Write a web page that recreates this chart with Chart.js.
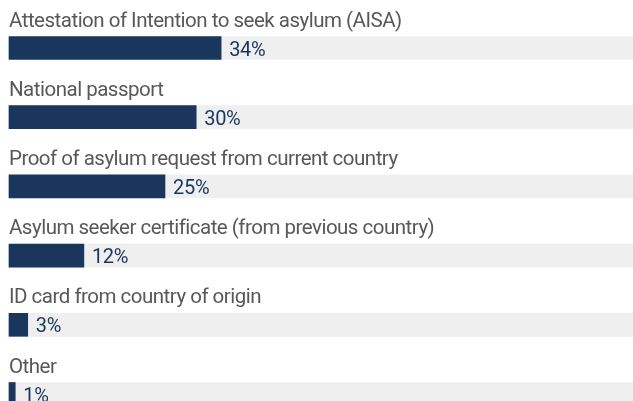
<!DOCTYPE html>
<html>
<head>
<meta charset="utf-8">
<script src="https://cdn.jsdelivr.net/npm/chart.js@4"></script>
<style>
  html, body { margin: 0; padding: 0; background: #fff; overflow: hidden; }
  #wrap { width: 633px; height: 401px; position: relative; }
</style>
</head>
<body>
<div id="wrap"><canvas id="docChart"></canvas></div>
<script>
const categories = [
    "Attestation of Intention to seek asylum (AISA)",
    "National passport",
    "Proof of asylum request from current country",
    "Asylum seeker certificate (from previous country)",
    "ID card from country of origin",
    "Other"
];
const shares = [34, 30, 25, 12, 3, 1];
const track = categories.map(() => 100);

const NAVY = "#1b365d";
const FONT = "Roboto, 'Liberation Sans', sans-serif";

// labels above the bars and the percentage after each bar
const barText = {
    id: "barText",
    afterDatasetsDraw(chart) {
        const ctx = chart.ctx;
        const meta = chart.getDatasetMeta(1);
        ctx.save();
        ctx.textAlign = "left";
        ctx.textBaseline = "alphabetic";
        meta.data.forEach((bar, i) => {
            const top = bar.y - bar.height / 2;
            ctx.font = "20.5px " + FONT;
            ctx.letterSpacing = "-0.5px";
            ctx.fillStyle = "#585858";
            ctx.fillText(categories[i], chart.chartArea.left, top - 10);
            ctx.font = "20px " + FONT;
            ctx.letterSpacing = "-0.3px";
            ctx.fillStyle = NAVY;
            ctx.fillText(shares[i] + "%", bar.x + 8, top + 19);
        });
        ctx.restore();
    }
};

new Chart(document.getElementById("docChart"), {
    type: "bar",
    data: {
        labels: categories,
        datasets: [
            { data: track, backgroundColor: "#efefef", barThickness: 23, clip: false, order: 2 },
            { data: shares, backgroundColor: NAVY, barThickness: 23, clip: false, order: 1 }
        ]
    },
    options: {
        indexAxis: "y",
        responsive: true,
        maintainAspectRatio: false,
        animation: false,
        layout: { padding: { left: 9, right: 0, top: 48, bottom: 7 } },
        plugins: { legend: { display: false }, tooltip: { enabled: false } },
        scales: {
            x: { min: 0, max: 100, display: false },
            y: { display: false, offset: false, stacked: false, grid: { display: false } }
        },
        datasets: { bar: { grouped: false } }
    },
    plugins: [barText]
});
</script>
</body>
</html>
